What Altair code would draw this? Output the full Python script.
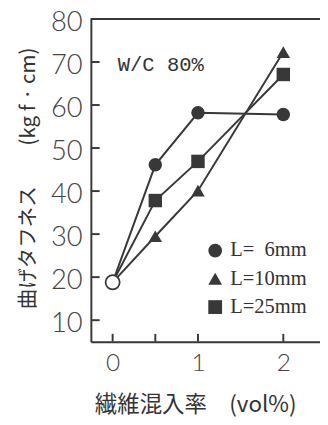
import altair as alt
import pandas as pd

series = ["L=\u20076mm", "L=10mm", "L=25mm"]
shapes = ["circle", "triangle-up", "square"]
fiber = [0, 0.5, 1, 2]
toughness = {
    "L=\u20076mm": [18.8, 46.1, 58.2, 57.8],
    "L=10mm": [18.8, 29.5, 40.1, 72.3],
    "L=25mm": [18.8, 37.8, 46.9, 67.1],
}
x_ticks = [0, 0.5, 1, 2]
x_labels = [0, 1, 2]
y_ticks = [10, 20, 30, 40, 50, 60, 70, 80]
note = "W/C 80%"
note_pos = (0.06, 69.3)

rows = []
for s in series:
    for xv, yv in zip(fiber, toughness[s]):
        rows.append({"series": s, "x": xv, "y": yv})
df = pd.DataFrame(rows)
pts = df[df["x"] > 0]
origin = pd.DataFrame({"x": [fiber[0]], "y": [toughness[series[0]][0]]})

INK = "#383838"
W, H = 235, 331

xs = alt.Scale(domain=[-0.255, 2.43], nice=False, zero=False)
ys = alt.Scale(domain=[5, 80], nice=False, zero=False)

X = alt.X("x:Q", scale=xs, title="繊維混入率\u3000(vol%)",
          axis=alt.Axis(values=x_labels, format="d", ticks=False, grid=False, domainColor=INK,
                        domainWidth=2, labelFontSize=25, labelFont="Lato", labelFontWeight=300,
                        labelColor="#444", labelPadding=10, titleFontSize=23,
                        titleFont="Noto Sans CJK JP", titleColor="#333",
                        titlePadding=19, titleFontWeight="normal", titleX=107))
Y = alt.Y("y:Q", scale=ys, title="曲げタフネス\u3000\u3000(kg f · cm)",
          axis=alt.Axis(values=y_ticks, ticks=False, grid=False, domainColor=INK, domainWidth=2,
                        labelFontSize=28, labelFont="Lato", labelFontWeight=300,
                        labelColor="#444", labelPadding=9, labelOffset=4,
                        titleFontSize=21, titleFont="Noto Sans CJK JP", titleColor="#333",
                        titlePadding=12, titleFontWeight="normal", titleY=163))

shape_scale = alt.Scale(domain=series, range=shapes)

lines = alt.Chart(df).mark_line(color=INK, strokeWidth=2).encode(
    x=X, y=Y, detail="series:N")

markers = alt.Chart(pts).mark_point(filled=True, color=INK, size=190, opacity=1).encode(
    x="x:Q", y="y:Q",
    shape=alt.Shape("series:N", scale=shape_scale, sort=series,
                    legend=alt.Legend(title=None, orient="none", legendX=117, legendY=227,
                                      labelFont="Liberation Serif", labelFontSize=21,
                                      labelColor="#333", symbolFillColor=INK,
                                      symbolStrokeColor=INK, symbolSize=200,
                                      rowPadding=7, labelOffset=5, padding=0)))

open_pt = alt.Chart(origin).mark_point(filled=True, fill="white", stroke=INK, strokeWidth=1.8,
                                       size=210, shape="circle", opacity=1).encode(x="x:Q", y="y:Q")

xtick_df = pd.DataFrame({"x": x_ticks})
xticks = alt.Chart(xtick_df).mark_rule(color=INK, strokeWidth=2).encode(
    x="x:Q", y=alt.value(H), y2=alt.value(H - 8))

ytick_df = pd.DataFrame({"y": y_ticks[:-1]})
yticks = alt.Chart(ytick_df).mark_rule(color=INK, strokeWidth=2).encode(
    y="y:Q", x=alt.value(0), x2=alt.value(9))

top_border = alt.Chart(xtick_df).mark_rule(color=INK, strokeWidth=2).encode(
    x=alt.value(0), x2=alt.value(W), y=alt.value(0))

label_df = pd.DataFrame({"x": [note_pos[0]], "y": [note_pos[1]], "t": [note]})
label = alt.Chart(label_df).mark_text(font="Liberation Mono", fontSize=21, align="left",
                                      baseline="middle", color="#333").encode(
    x="x:Q", y="y:Q", text="t:N")

chart = alt.layer(lines, xticks, yticks, top_border, markers, open_pt, label).properties(
    width=W, height=H,
    autosize=alt.AutoSizeParams(type="none"),
    padding={"left": 85, "top": 6, "right": 0, "bottom": 72},
).configure_view(stroke=None).configure(background="white")

chart.save("out.html", embed_options={"renderer": "svg", "actions": False})
